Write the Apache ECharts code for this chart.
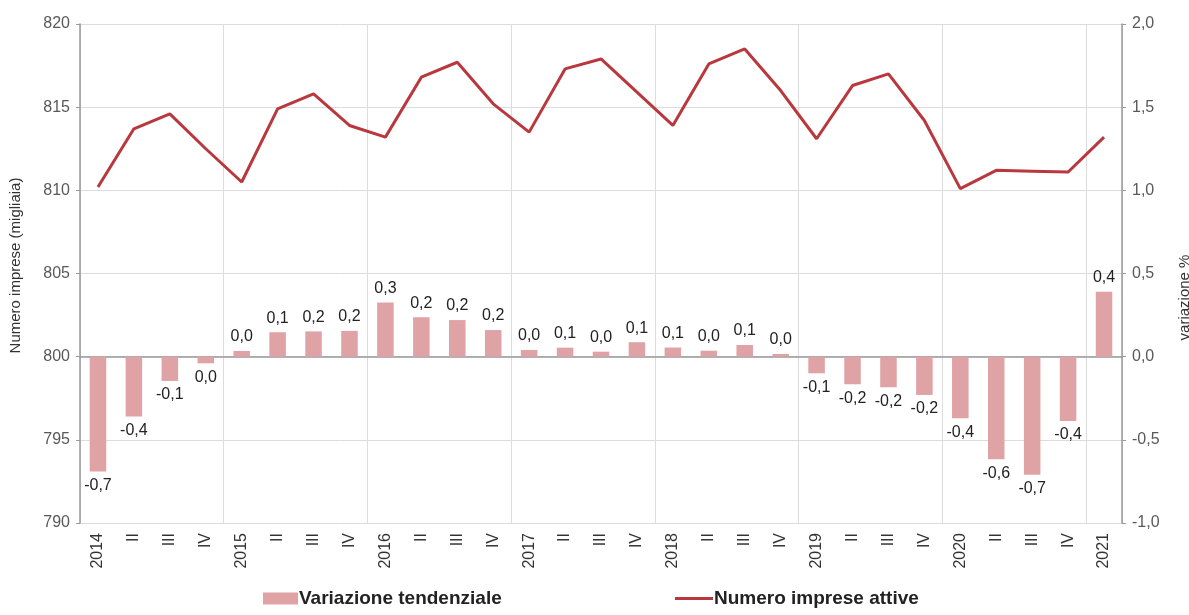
<!DOCTYPE html>
<html>
<head>
<meta charset="utf-8">
<script src="https://cdn.jsdelivr.net/npm/echarts@6/dist/echarts.min.js"></script>
<style>html,body{margin:0;padding:0;background:#fff}#c{width:1189px;height:615px}</style>
</head>
<body>
<div id="c"></div>
<script>
const categories = ['2014','II','III','IV','2015','II','III','IV','2016','II','III','IV','2017','II','III','IV','2018','II','III','IV','2019','II','III','IV','2020','II','III','IV','2021'];
const impreseAttive = [810.2,813.7,814.6,812.5,810.5,814.9,815.8,813.9,813.2,816.8,817.7,815.2,813.5,817.3,817.9,815.9,813.9,817.6,818.5,816.0,813.1,816.3,817.0,814.2,810.1,811.2,811.15,811.1,813.2];
const variazione = [-0.69,-0.36,-0.146,-0.04,0.034,0.147,0.152,0.155,0.325,0.237,0.22,0.16,0.04,0.054,0.03,0.087,0.055,0.036,0.07,0.016,-0.10,-0.166,-0.184,-0.23,-0.37,-0.617,-0.71,-0.387,0.39];
const leftTicks = {min:790, max:820, interval:5};
const rightTicks = {min:-1, max:2, interval:0.5};

function fmt1(v){
  let r = Math.round(v*10)/10;
  if (Math.abs(r) < 1e-9) r = 0;
  return r.toFixed(1).replace('.', ',');
}

const barData = variazione.map(v => ({
  value: v,
  label: { position: v < 0 ? 'bottom' : 'top' }
}));

const chart = echarts.init(document.getElementById('c'), null, {renderer:'canvas'});
chart.setOption({
  animation: false,
  backgroundColor: '#fff',
  textStyle: { fontFamily: 'Liberation Sans, Arial, sans-serif' },
  grid: { left: 80, right: 67, top: 24, bottom: 92, containLabel: false, outerBoundsMode: 'none' },
  legend: [
    {
      left: 258, bottom: 2,
      itemWidth: 35, itemHeight: 12,
      textStyle: { fontSize: 19, fontWeight: 'bold', color: '#222', padding: [0,0,0,-4] },
      data: [ { name: 'Variazione tendenziale', icon: 'rect' } ]
    },
    {
      left: 670, bottom: 2,
      itemWidth: 38, itemHeight: 3,
      textStyle: { fontSize: 19, fontWeight: 'bold', color: '#222', padding: [0,0,0,-4] },
      data: [ { name: 'Numero imprese attive', icon: 'rect' } ]
    }
  ],
  xAxis: {
    type: 'category',
    data: categories,
    boundaryGap: true,
    axisLine: { lineStyle: { color: '#999', width: 1.5 } },
    axisTick: { show: false },
    axisLabel: { rotate: 90, fontSize: 16, color: '#333', margin: 10, interval: 0 },
    splitLine: { show: true, interval: 3, lineStyle: { color: '#dcdcdc', width: 1 } }
  },
  yAxis: [
    {
      type: 'value', min: leftTicks.min, max: leftTicks.max, interval: leftTicks.interval,
      name: 'Numero imprese (migliaia)', nameLocation: 'middle', nameGap: 57, nameRotate: 90,
      nameTextStyle: { fontSize: 15, color: '#333', padding: [0,0,0,16] },
      axisLine: { show: true, lineStyle: { color: '#999', width: 1.5 } },
      axisTick: { show: true, length: 4, lineStyle: { color: '#999' } },
      axisLabel: { fontSize: 16, color: '#595959', margin: 10 },
      splitLine: { lineStyle: { color: '#dcdcdc', width: 1 } }
    },
    {
      type: 'value', min: rightTicks.min, max: rightTicks.max, interval: rightTicks.interval,
      name: 'variazione %', nameLocation: 'middle', nameGap: 55, nameRotate: 90,
      nameTextStyle: { fontSize: 15, color: '#333', padding: [0,48,0,0] },
      axisLine: { show: true, lineStyle: { color: '#999', width: 1.5 } },
      axisTick: { show: true, length: 4, lineStyle: { color: '#999' } },
      axisLabel: { fontSize: 16, color: '#595959', margin: 10, formatter: v => v.toFixed(1).replace('.', ',') },
      splitLine: { show: false }
    }
  ],
  series: [
    {
      name: 'Variazione tendenziale',
      type: 'bar',
      yAxisIndex: 1,
      data: barData,
      barWidth: '46%',
      itemStyle: { color: '#dfa3a6' },
      label: { show: true, fontSize: 16, color: '#222', distance: 6, formatter: p => fmt1(p.value) },
      z: 2
    },
    {
      name: 'Numero imprese attive',
      type: 'line',
      yAxisIndex: 0,
      data: impreseAttive,
      symbol: 'none',
      lineStyle: { color: '#b9383e', width: 3 },
      itemStyle: { color: '#b9383e' },
      z: 3
    }
  ]
});
</script>
</body>
</html>
